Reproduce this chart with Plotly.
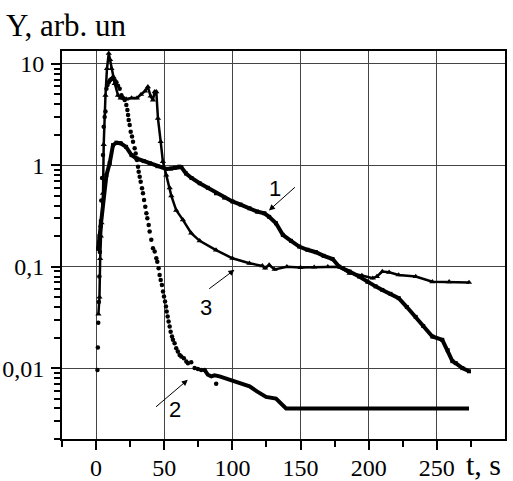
import plotly.graph_objects as go
import math

# ---- data ----
t1 = [1.5, 2.5, 3.5, 5.1, 6.4, 7.6, 10, 12.4, 14.9, 18, 22, 26, 29.6, 35, 39.3, 45, 51.5, 55, 58, 61,
      62.5, 66, 70, 76, 82, 88, 94, 100, 106, 112.5, 118, 123.5, 127, 132, 137, 143, 149, 155, 161.3, 167,
      173.5, 178.4, 181, 186, 193, 199, 205, 210, 216, 222, 228, 234.5, 240, 246.7, 254, 258, 261.4, 263.8,
      268.7, 273.6]
y1 = [0.15, 0.2, 0.28, 0.42, 0.64, 0.8, 1.05, 1.58, 1.67, 1.65, 1.52, 1.26, 1.17, 1.1, 1.05, 0.98, 0.92, 0.93, 0.95, 0.97,
      0.96, 0.83, 0.75, 0.665, 0.6, 0.53, 0.48, 0.44, 0.41, 0.377, 0.35, 0.336, 0.31, 0.268, 0.206, 0.18, 0.158, 0.147, 0.139, 0.128,
      0.119, 0.1, 0.097, 0.0895, 0.08, 0.071, 0.064, 0.059, 0.054, 0.049, 0.04, 0.032, 0.026, 0.0205, 0.019, 0.015, 0.0117, 0.0112,
      0.01, 0.0093]

t2_dots = [1.0, 1.3, 1.6, 2.0, 2.4, 2.8, 3.3, 3.8, 4.4, 5.1, 5.6, 6.3, 6.9, 7.6, 8.4, 9.3, 10.2, 11.2, 12.5, 13.7,
           14.9, 16.1, 17.3, 18.6, 19.8, 21, 22.2, 22.96, 23.45, 23.94, 24.67, 25.4, 26.38, 27.1, 28.3, 29.06, 30.0, 30.77,
           31.26, 32.0, 32.7, 33.7, 34.4, 35.2, 36.1, 36.9, 37.6, 38.6, 39.3, 40.5, 41.75, 43.0, 44.2, 44.9, 45.9, 46.6,
           47.4, 48.3, 49.1, 49.8, 50.6, 51.3, 51.8, 52.5, 53.2, 54.0, 54.7, 55.7, 56.4, 57.6, 58.8, 60.0, 61.3, 62.5,
           64.4, 66.2, 67.4, 69.8, 72.3, 74.7, 77.1, 79.6, 88.1]
y2_dots = [0.0096, 0.016, 0.028, 0.045, 0.08, 0.14, 0.25, 0.45, 0.75, 1.26, 2.4, 3.0, 3.4, 5.7, 6.2, 6.6, 6.9, 7.1, 7.2, 6.9,
           6.6, 6.1, 5.7, 4.9, 4.6, 4.4, 3.93, 3.51, 3.13, 2.79, 2.49, 2.14, 1.92, 1.71, 1.47, 1.31, 1.13, 0.97,
           0.865, 0.773, 0.69, 0.593, 0.53, 0.455, 0.39, 0.336, 0.30, 0.258, 0.222, 0.184, 0.152, 0.141, 0.121, 0.112, 0.0966, 0.083,
           0.074, 0.066, 0.0569, 0.0508, 0.0453, 0.0405, 0.0361, 0.0323, 0.0288, 0.0257, 0.0229, 0.0205, 0.019, 0.0176, 0.0157, 0.0146, 0.0135, 0.013,
           0.0125, 0.0116, 0.0112, 0.0114, 0.010, 0.0098, 0.0096, 0.0096, 0.0070]

t2_tail = [79.6, 82, 84.5, 86.9, 90.6, 93, 96.7, 100.3, 104, 107.6, 112.6, 118, 124.7, 132, 139.4, 273.6]
y2_tail = [0.0096, 0.0086, 0.0083, 0.0085, 0.0083, 0.0081, 0.0078, 0.0075, 0.0073, 0.0071, 0.0066, 0.0059, 0.0052, 0.005, 0.004, 0.004]

t3 = [1.7, 2.5, 3.0, 3.5, 4.0, 5.1, 5.6, 6.9, 8.0, 9.3, 10.3, 11.3, 12.5, 13.7, 16.1, 18, 22, 26, 30, 33,
      36, 38, 40, 41.7, 43, 44.2, 45.4, 47.4, 49, 51.5, 54, 55.2, 58.8, 63.7, 69.8, 76, 88, 100, 112.5, 122,
      124, 127, 131, 140, 150, 160, 170, 178, 186, 195, 203, 206, 210, 215, 222, 234.5, 246.7, 259, 273.6]
y3 = [0.034, 0.05, 0.12, 0.2, 0.27, 0.53, 1.6, 4.9, 9.0, 12.7, 11.0, 9.0, 7.5, 6.4, 4.9, 4.6, 4.5, 4.6, 4.6, 5.0,
      5.4, 5.95, 4.8, 4.4, 5.3, 5.3, 2.9, 1.71, 1.09, 0.8, 0.6, 0.5, 0.36, 0.29, 0.214, 0.18, 0.146, 0.121, 0.108, 0.102,
      0.097, 0.104, 0.094, 0.1, 0.098, 0.099, 0.1, 0.1, 0.086, 0.082, 0.077, 0.08, 0.0895, 0.088, 0.083, 0.08, 0.071, 0.071, 0.07]

x_ticks = [0, 50, 100, 150, 200, 250]
x_minor = [-25, 25, 75, 125, 175, 225, 275]
y_ticks = [0.01, 0.1, 1, 10]
y_ticktext = ["0,01", "0,1", "1", "10"]

assert len(t1) == len(y1) and len(t2_dots) == len(y2_dots) and len(t2_tail) == len(y2_tail) and len(t3) == len(y3)

fig = go.Figure()
fig.add_trace(go.Scatter(x=t1, y=y1, mode="lines+markers",
                         line=dict(color="black", width=4),
                         marker=dict(symbol="square", size=4, color="black"), showlegend=False))
fig.add_trace(go.Scatter(x=t2_tail, y=y2_tail, mode="lines",
                         line=dict(color="black", width=4), showlegend=False))
fig.add_trace(go.Scatter(x=t2_dots, y=y2_dots, mode="markers",
                         marker=dict(symbol="circle", size=4.5, color="black"), showlegend=False))
fig.add_trace(go.Scatter(x=t3, y=y3, mode="lines+markers",
                         line=dict(color="black", width=2.5),
                         marker=dict(symbol="triangle-up", size=5.5, color="black"), showlegend=False))

serif = "Liberation Serif, Times New Roman, DejaVu Serif, serif"
sans = "Liberation Sans, Arial, sans-serif"

minor_y = [k * 10 ** e for e in range(-3, 2) for k in range(2, 10) if 0.002 <= k * 10 ** e <= 13]

fig.update_xaxes(range=[-25, 300], tickmode="array", tickvals=x_ticks, ticks="outside", ticklen=9, tickwidth=1.5,
                 tickcolor="black", ticklabelstandoff=-3,
                 minor=dict(tickmode="array", tickvals=x_minor, ticks="outside", ticklen=6, tickwidth=1.5,
                            tickcolor="black", showgrid=False),
                 showgrid=True, gridcolor="#444", gridwidth=1, showline=True, linewidth=2, linecolor="black",
                 mirror=True, zeroline=False, automargin=False,
                 tickfont=dict(family=serif, size=24, color="black"))
fig.update_yaxes(type="log", range=[math.log10(0.002), math.log10(13.4)], tickmode="array", tickvals=y_ticks,
                 ticktext=y_ticktext, ticks="outside", ticklen=9, tickwidth=1.5, tickcolor="black",
                 ticklabelstandoff=2,
                 minor=dict(tickmode="array", tickvals=minor_y, ticks="outside", ticklen=6, tickwidth=1.5,
                            tickcolor="black", showgrid=False),
                 showgrid=True, gridcolor="#444", gridwidth=1, showline=True, linewidth=2, linecolor="black",
                 mirror=True, zeroline=False, automargin=False,
                 tickfont=dict(family=serif, size=24, color="black"))

annotations = [
    dict(text="Y, arb. un", xref="paper", yref="paper", x=-0.131, y=1.067, xanchor="left", yanchor="middle",
         showarrow=False, font=dict(family=serif, size=31, color="black")),
    dict(text="t, s", xref="paper", yref="paper", x=0.91, y=-0.067, xanchor="left", yanchor="middle",
         showarrow=False, borderpad=0, font=dict(family=serif, size=30, color="black")),
    # arrows
    dict(x=126.8, y=-0.445, xref="x", yref="y", ax=27.5, ay=-24.5, text="", showarrow=True,
         arrowhead=2, arrowsize=1.2, arrowwidth=1, arrowcolor="black"),
    dict(x=67.3, y=-2.115, xref="x", yref="y", ax=-33.3, ay=28.3, text="", showarrow=True,
         arrowhead=2, arrowsize=1.2, arrowwidth=1, arrowcolor="black"),
    dict(x=101.5, y=-1.031, xref="x", yref="y", ax=-26.7, ay=20, text="", showarrow=True,
         arrowhead=2, arrowsize=1.2, arrowwidth=1, arrowcolor="black"),
    # labels
    dict(x=131.6, y=-0.2256, xref="x", yref="y", text="1", showarrow=False,
         font=dict(family=sans, size=22, color="black")),
    dict(x=57.6, y=-2.411, xref="x", yref="y", text="2", showarrow=False,
         font=dict(family=sans, size=22, color="black")),
    dict(x=80.3, y=-1.406, xref="x", yref="y", text="3", showarrow=False,
         font=dict(family=sans, size=22, color="black")),
]

fig.update_layout(width=513, height=481, margin=dict(l=62, r=8, t=51, b=42, pad=0),
                  plot_bgcolor="white", paper_bgcolor="white", annotations=annotations,
                  showlegend=False)

fig.write_html("out.html", config={"displayModeBar": False},
               post_script="document.documentElement.style.margin='0';document.body.style.margin='0';"
                           "document.body.style.overflow='hidden';")
